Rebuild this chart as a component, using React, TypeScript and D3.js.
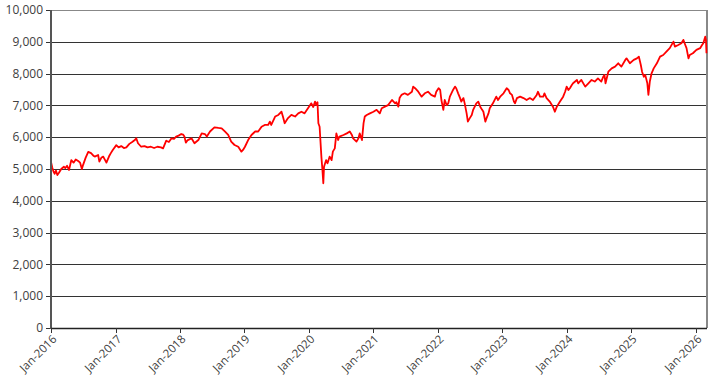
import React from "react";
import * as d3 from "d3";

const dates: string[] = [
"2016-01-01","2016-01-08","2016-01-15","2016-01-22","2016-01-29","2016-02-06","2016-02-15","2016-02-28","2016-03-14","2016-03-22","2016-04-01","2016-04-12","2016-04-25","2016-05-08","2016-05-20","2016-06-03","2016-06-14","2016-06-24","2016-07-01","2016-07-15","2016-07-30","2016-08-15","2016-08-28","2016-09-05","2016-09-24","2016-10-01","2016-10-12","2016-10-23","2016-11-10","2016-11-25","2016-12-05","2016-12-16",
"2017-01-05","2017-01-18","2017-02-02","2017-02-17","2017-03-03","2017-03-20","2017-04-05","2017-04-20","2017-04-28","2017-05-08","2017-05-26","2017-06-14","2017-07-01","2017-07-20","2017-08-07","2017-08-26","2017-09-15","2017-09-27","2017-10-15","2017-10-30","2017-11-14","2017-11-28","2017-12-10","2017-12-24",
"2018-01-08","2018-01-19","2018-01-26","2018-02-03","2018-02-14","2018-03-07","2018-03-24","2018-04-15","2018-05-04","2018-05-22","2018-06-02","2018-06-20","2018-07-15","2018-08-07","2018-08-25","2018-09-12","2018-10-01","2018-10-18","2018-11-06","2018-11-27","2018-12-15","2018-12-24",
"2019-01-04","2019-01-22","2019-02-10","2019-03-03","2019-03-20","2019-04-08","2019-04-26","2019-05-15","2019-05-25","2019-06-02","2019-06-24","2019-07-12","2019-07-30","2019-08-07","2019-08-17","2019-09-05","2019-09-24","2019-10-15","2019-11-02","2019-11-20","2019-12-08","2019-12-27",
"2020-01-15","2020-01-26","2020-02-05","2020-02-12","2020-02-19","2020-02-24","2020-03-02","2020-03-12","2020-03-18","2020-03-23","2020-03-27","2020-04-08","2020-04-16","2020-04-28","2020-05-09","2020-05-16","2020-05-27","2020-06-05","2020-06-15","2020-06-22","2020-07-15","2020-08-03","2020-08-20","2020-09-01","2020-09-08","2020-09-27","2020-10-08","2020-10-15","2020-10-28","2020-11-06","2020-11-13","2020-11-24","2020-12-12",
"2021-01-01","2021-01-19","2021-02-06","2021-02-17","2021-03-07","2021-03-25","2021-04-16","2021-05-04","2021-05-11","2021-05-22","2021-05-29","2021-06-09","2021-06-27","2021-07-15","2021-08-07","2021-08-14","2021-08-25","2021-09-12","2021-10-01","2021-10-19","2021-11-06","2021-11-24","2021-12-15","2021-12-23",
"2022-01-05","2022-01-14","2022-01-21","2022-02-01","2022-02-09","2022-02-20","2022-03-01","2022-03-10","2022-03-28","2022-04-08","2022-04-15","2022-04-26","2022-05-07","2022-05-14","2022-05-26","2022-06-02","2022-06-13","2022-06-20","2022-07-01","2022-07-12","2022-07-20","2022-08-07","2022-08-18","2022-08-29","2022-09-09","2022-09-16","2022-09-27","2022-10-04","2022-10-15","2022-10-22","2022-11-09","2022-11-28","2022-12-08","2022-12-20",
"2023-01-08","2023-01-26","2023-02-06","2023-02-14","2023-02-25","2023-03-08","2023-03-14","2023-03-25","2023-04-12","2023-05-01","2023-05-19","2023-06-06","2023-06-24","2023-07-15","2023-07-22","2023-08-03","2023-08-21","2023-08-28","2023-09-09","2023-09-27","2023-10-15","2023-10-26","2023-11-06","2023-11-24","2023-12-12","2023-12-23",
"2024-01-01","2024-01-11","2024-01-19","2024-01-30","2024-02-06","2024-02-28","2024-03-06","2024-03-24","2024-04-15","2024-05-03","2024-05-21","2024-06-08","2024-06-26","2024-07-15","2024-07-26","2024-08-02","2024-08-08","2024-08-24","2024-09-12","2024-10-01","2024-10-19","2024-11-06","2024-11-28","2024-12-05","2024-12-24",
"2025-01-15","2025-02-02","2025-02-13","2025-02-24","2025-03-03","2025-03-13","2025-03-21","2025-04-02","2025-04-08","2025-04-16","2025-04-26","2025-05-08","2025-05-26","2025-06-13","2025-07-01","2025-07-19","2025-08-07","2025-08-28","2025-09-05","2025-09-24","2025-10-12","2025-10-23","2025-11-03","2025-11-10","2025-11-21","2025-11-28","2025-12-16",
"2026-01-05","2026-01-26","2026-02-06","2026-02-13","2026-02-24","2026-02-28","2026-03-03"
];

const values: number[] = [
5220,5050,4920,4850,4950,4810,4880,5000,5070,5030,5100,4970,5280,5200,5300,5250,5200,5000,5130,5350,5540,5500,5420,5390,5440,5230,5350,5390,5200,5400,5500,5600,
5750,5680,5720,5660,5680,5790,5850,5910,5965,5810,5700,5720,5680,5700,5660,5700,5680,5650,5890,5850,5965,5950,6020,6050,
6100,6080,6020,5830,5910,5965,5810,5910,6120,6100,6020,6180,6310,6290,6280,6180,6070,5860,5755,5700,5545,5600,
5700,5910,6070,6180,6180,6330,6385,6385,6490,6385,6650,6700,6800,6650,6440,6600,6700,6650,6750,6800,6750,6910,
7065,6950,7120,7010,7100,6440,6330,5390,4970,4550,5070,5280,5180,5390,5280,5545,5650,6120,5910,6020,6070,6120,6180,6070,5965,5860,5965,6120,5910,6440,6650,6700,6750,
6800,6860,6750,6910,6960,7010,7170,7065,7100,6960,7230,7330,7380,7330,7430,7590,7540,7430,7275,7380,7430,7330,7275,7430,
7540,7485,7170,6860,7170,7010,7065,7275,7485,7590,7540,7380,7230,7120,7230,7065,6750,6490,6600,6700,6860,7065,7120,6960,6860,6800,6490,6600,6750,6910,7065,7275,7170,7275,
7380,7540,7485,7380,7330,7120,7065,7230,7275,7230,7170,7230,7170,7330,7430,7275,7275,7380,7230,7120,6960,6800,6960,7120,7275,7430,
7590,7485,7540,7640,7695,7800,7695,7800,7590,7695,7800,7750,7850,7750,7900,7960,7695,8060,8165,8220,8325,8220,8430,8480,8325,
8430,8480,8535,8270,8060,7900,7960,7695,7330,7750,8010,8165,8325,8535,8585,8690,8800,9005,8850,8900,8955,9060,8900,8800,8480,8585,8640,
8745,8800,8900,8955,9160,9060,8640
];

const yTicks: number[] = [0, 1000, 2000, 3000, 4000, 5000, 6000, 7000, 8000, 9000, 10000];
const xTickYears: number[] = [2016, 2017, 2018, 2019, 2020, 2021, 2022, 2023, 2024, 2025, 2026];

export default function App() {
  const W = 714, H = 383;
  const left = 51, right = 707, top = 10, bottom = 328;
  const parse = d3.timeParse("%Y-%m-%d");
  const data = dates.map((d, i) => ({ date: parse(d) as Date, value: values[i] }));
  const x = d3.scaleTime().domain([new Date(2016, 0, 1), new Date(2026, 2, 6)]).range([left, right]);
  const y = d3.scaleLinear().domain([0, 10000]).range([bottom, top]);
  const line = d3.line<{ date: Date; value: number }>().x(d => x(d.date)).y(d => y(d.value));
  const fmt = d3.format(",");
  const font = "'Open Sans', 'Noto Sans', sans-serif";
  return (
    <svg width={W} height={H} style={{ position: "absolute", left: 0, top: 0 }}>
      <rect x={0} y={0} width={W} height={H} fill="#fff" />
      {yTicks.map(t => (
        <g key={t}>
          {t > 0 && (
            <line x1={left} x2={right} y1={Math.round(y(t)) + 0.5} y2={Math.round(y(t)) + 0.5}
              stroke={t === 10000 ? "#888" : "#333"} strokeWidth={1} />
          )}
          <line x1={left - 5} x2={left} y1={Math.round(y(t)) + 0.5} y2={Math.round(y(t)) + 0.5} stroke="#333" />
          <text x={43} y={y(t)} dy="0.35em" textAnchor="end" fontFamily={font} fontSize={12} fill="#404040">{fmt(t)}</text>
        </g>
      ))}
      <line x1={right} x2={right} y1={top} y2={bottom} stroke="#888" strokeWidth={2} />
      <path d={line(data) || ""} fill="none" stroke="#ff0000" strokeWidth={1.8} strokeLinejoin="round" />
      <line x1={left} x2={left} y1={top} y2={bottom + 1} stroke="#555" strokeWidth={2} />
      <line x1={left} x2={right} y1={bottom + 0.5} y2={bottom + 0.5} stroke="#222" strokeWidth={1.5} />
      {xTickYears.map(yr => {
        const px = Math.round(x(new Date(yr, 0, 1))) + 0.5;
        return (
          <g key={yr}>
            <line x1={px} x2={px} y1={bottom} y2={bottom + 5} stroke="#333" />
            <text transform={`translate(${px + 3},${bottom + 9}) rotate(-45)`} textAnchor="end" dy="0.35em"
              fontFamily={font} fontSize={11.5} fill="#404040">{`Jan-${yr}`}</text>
          </g>
        );
      })}
    </svg>
  );
}
